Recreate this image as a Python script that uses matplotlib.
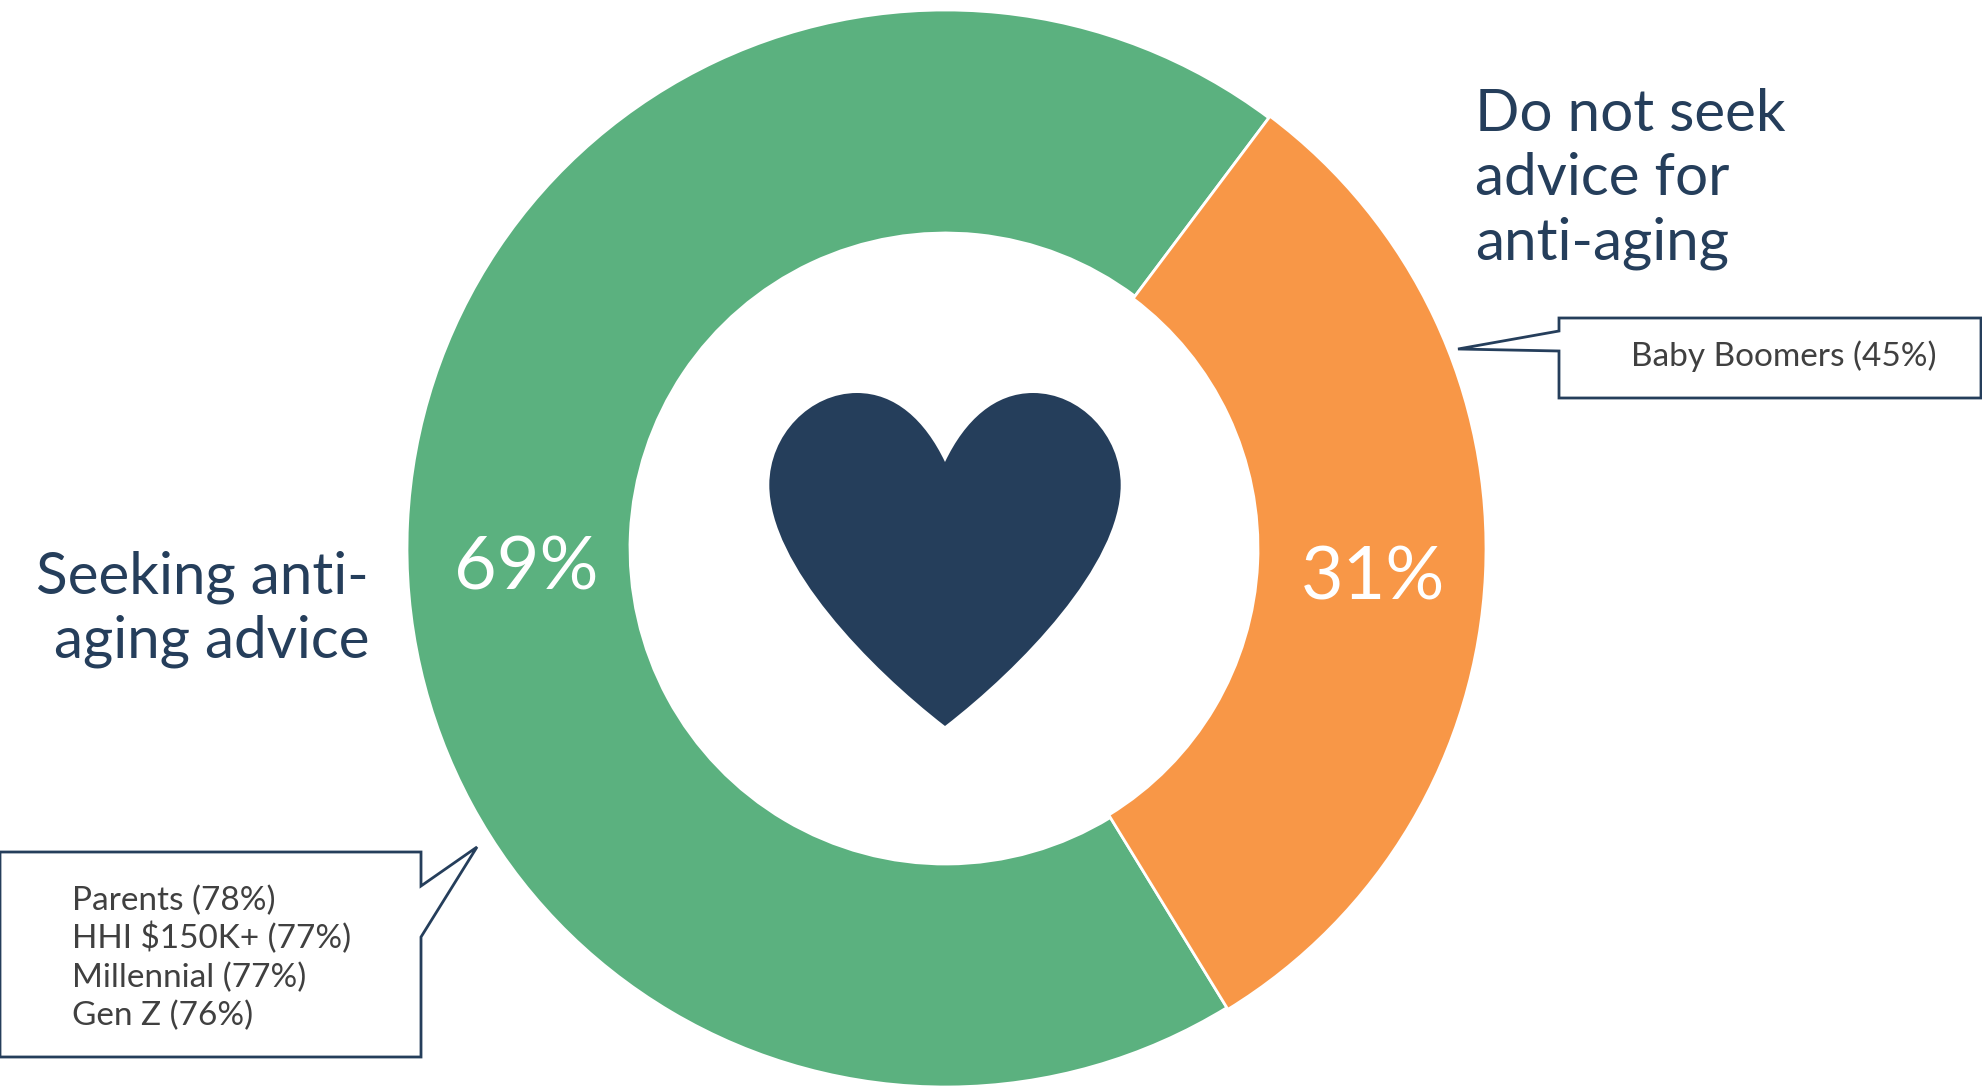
import matplotlib
matplotlib.use("Agg")
import matplotlib.pyplot as plt
from matplotlib.patches import PathPatch, Polygon
from matplotlib.path import Path

# Survey shares
segments = ["Seeking anti-aging advice", "Do not seek advice for anti-aging"]
shares = [69, 31]
segment_colors = ["#5BB17F", "#F89747"]
seeking_groups = ["Parents (78%)", "HHI $150K+ (77%)", "Millennial (77%)", "Gen Z (76%)"]
not_seeking_groups = ["Baby Boomers (45%)"]

NAVY = "#253E5B"
GREY = "#404040"
W, H = 1982, 1090
plt.rcParams["font.family"] = ["Lato", "DejaVu Sans"]

fig = plt.figure(figsize=(W / 100, H / 100), dpi=100, facecolor="white")

# Donut in its own square axes
cx, cy, r_out, r_in = 945.5, 548.5, 538.5, 315.5
pie_ax = fig.add_axes([(cx - r_out) / W, 1 - (cy + r_out) / H, 2 * r_out / W, 2 * r_out / H])
wedges, _ = pie_ax.pie(shares, colors=segment_colors, startangle=53.1, radius=1.0,
                       wedgeprops=dict(width=1 - r_in / r_out, edgecolor="white", linewidth=2.0))
pie_ax.set_xlim(-1, 1)
pie_ax.set_ylim(-1, 1)

# The smaller segment is a touch thicker than the larger one
wedges[1].set_radius(540.5 / r_out)
wedges[1].set_width(228.0 / r_out)
wedges[1].set_clip_on(False)

# Overlay in pixel units for annotations and the heart
ax = fig.add_axes([0, 0, 1, 1], facecolor="none")
ax.set_xlim(0, W)
ax.set_ylim(H, 0)
ax.axis("off")

# Heart, built from mirrored Bezier curves
hx = 945
right = [(75, 668), (175.7, 565), (175.7, 485), (175.7, 435), (135, 393), (88, 393), (50, 393), (20, 420), (0, 462)]
verts = [(hx, 726)] + [(hx + dx, y) for dx, y in right]
verts += [(hx - dx, y) for dx, y in [(20, 420), (50, 393), (88, 393), (135, 393), (175.7, 435), (175.7, 485), (175.7, 565), (75, 668), (0, 726)]]
codes = [Path.MOVETO] + [Path.CURVE4] * (len(verts) - 1)
ax.add_patch(PathPatch(Path(verts, codes), facecolor=NAVY, edgecolor="none"))

# Callout boxes
ax.add_patch(Polygon([(1559, 318), (1981, 318), (1981, 398), (1559, 398), (1559, 351), (1458, 349), (1559, 331)],
                     closed=True, facecolor="white", edgecolor=NAVY, linewidth=2.0, joinstyle="miter"))
ax.add_patch(Polygon([(0, 852), (421, 852), (421, 886), (477, 847), (421, 937), (421, 1057), (0, 1057)],
                     closed=True, facecolor="white", edgecolor=NAVY, linewidth=2.0, joinstyle="miter"))

# Segment captions
caption = dict(color=NAVY, fontsize=42, fontweight="normal", va="baseline")
for line, y in zip(["Do not seek", "advice for", "anti-aging"], [131, 195, 259]):
    ax.text(1475, y, line, ha="left", **caption)
for line, y in zip(["Seeking anti-", "aging advice"], [594, 657]):
    ax.text(369, y, line, ha="right", **caption)

# Percent labels on the ring
ax.text(526, 589, f"{shares[0]}%", color="white", fontsize=53, fontweight="normal", ha="center", va="baseline")
ax.text(1373, 599, f"{shares[1]}%", color="white", fontsize=53, fontweight="normal", ha="center", va="baseline")

# Callout text
small = dict(color=GREY, fontsize=24, fontweight="normal", ha="left", va="baseline")
ax.text(1631, 366, not_seeking_groups[0], **small)
for line, y in zip(seeking_groups, [910, 948, 987, 1025]):
    ax.text(72, y, line, **small)

fig.savefig("out.png", dpi=100, facecolor="white")
